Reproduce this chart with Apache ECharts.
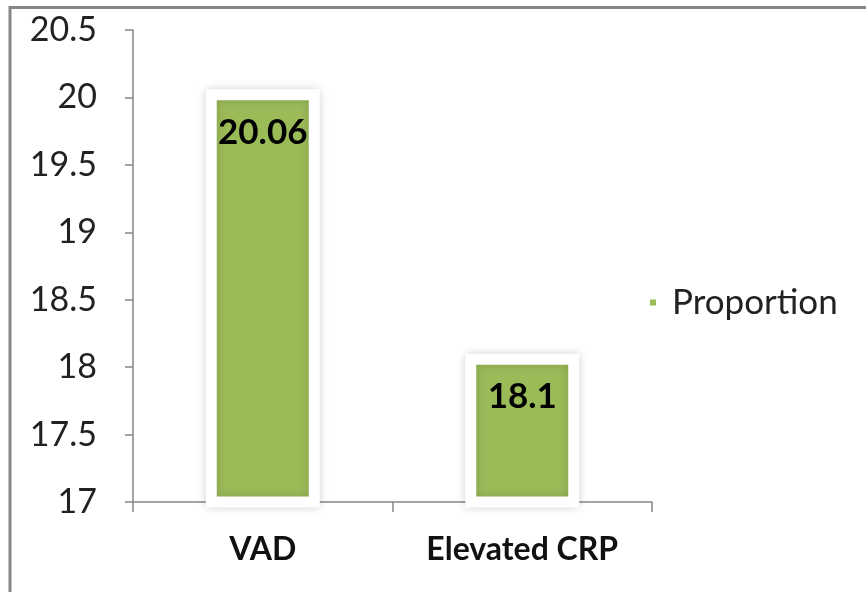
<!DOCTYPE html>
<html>
<head>
<meta charset="utf-8">
<script src="https://cdn.jsdelivr.net/npm/echarts@6/dist/echarts.min.js"></script>
<style>html,body{margin:0;padding:0;background:#fff}#c{width:866px;height:592px}</style>
</head>
<body>
<div id="c"></div>
<script>
const categories = ['VAD', 'Elevated CRP'];
const proportion = [20.06, 18.1];
const seriesName = 'Proportion';
const yMin = 17, yMax = 20.5, yStep = 0.5;

const FONT = 'Lato';
const chart = echarts.init(document.getElementById('c'), null, {renderer: 'canvas'});
chart.setOption({
  animation: false,
  backgroundColor: '#fff',
  graphic: [{
    type: 'rect',
    shape: {x: 10, y: 7.5, width: 900, height: 700},
    style: {fill: 'none', stroke: '#868686', lineWidth: 3},
    silent: true, z: -1
  }],
  grid: {left: 133, right: 214, top: 30, bottom: 90, containLabel: false},
  legend: {
    data: [seriesName],
    left: 643, top: 280,
    icon: 'rect', itemWidth: 8, itemHeight: 8,
    textStyle: {fontFamily: FONT, fontSize: 35, color: '#222', padding: [0, 0, 0, 10]}
  },
  xAxis: {
    type: 'category',
    data: categories,
    axisLine: {lineStyle: {color: '#868686', width: 1.5}},
    axisTick: {show: true, length: 10, lineStyle: {color: '#868686', width: 1.5}},
    axisLabel: {fontFamily: FONT, fontSize: 32, fontWeight: 'bold', color: '#111', margin: 32}
  },
  yAxis: {
    type: 'value',
    min: yMin, max: yMax, interval: yStep,
    axisLine: {show: true, lineStyle: {color: '#868686', width: 1.5}},
    axisTick: {show: true, length: 8, lineStyle: {color: '#868686', width: 1.5}},
    splitLine: {show: false},
    axisLabel: {fontFamily: FONT, fontSize: 34, color: '#222', margin: 36}
  },
  series: [{
    name: seriesName,
    type: 'bar',
    data: proportion,
    barWidth: 114,
    itemStyle: {
      color: '#9BBB59',
      borderColor: '#ffffff',
      borderWidth: 11,
      shadowBlur: 10,
      shadowColor: 'rgba(0,0,0,0.16)'
    },
    label: {
      show: true,
      position: 'insideTop',
      distance: 26,
      fontFamily: FONT, fontSize: 35, fontWeight: 'bold', color: '#000',
      formatter: p => String(p.value)
    }
  }]
});
</script>
</body>
</html>
